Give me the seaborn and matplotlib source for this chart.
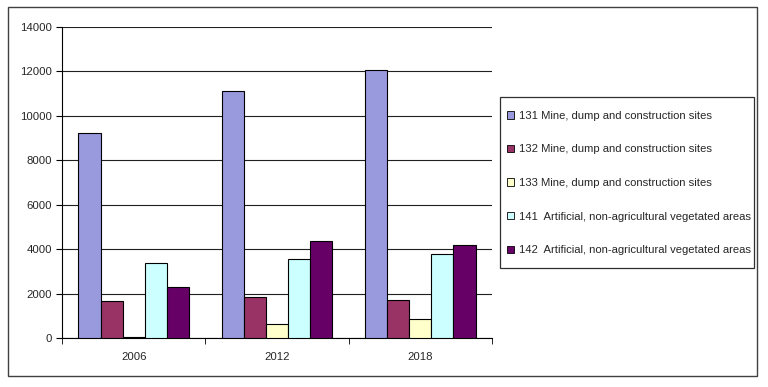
import pandas as pd
import matplotlib.pyplot as plt
import matplotlib.patches as mpatches
import seaborn as sns

# Data
years = ["2006", "2012", "2018"]
classes = [
    "131 Mine, dump and construction sites",
    "132 Mine, dump and construction sites",
    "133 Mine, dump and construction sites",
    "141  Artificial, non-agricultural vegetated areas",
    "142  Artificial, non-agricultural vegetated areas",
]
v131 = [9250, 11120, 12070]
v132 = [1670, 1840, 1710]
v133 = [30, 630, 860]
v141 = [3380, 3560, 3770]
v142 = [2300, 4360, 4190]
colors = ["#9999DD", "#993366", "#FFFFCC", "#CCFFFF", "#660066"]

rows = []
for cls, vals in zip(classes, [v131, v132, v133, v141, v142]):
    for yr, v in zip(years, vals):
        rows.append({"year": yr, "class": cls, "area": v})
df = pd.DataFrame(rows)

sns.set_style("white")
plt.rcParams["font.family"] = ["Liberation Sans", "DejaVu Sans"]

W, H = 768, 387
fig = plt.figure(figsize=(W / 100, H / 100), dpi=100)
ax = fig.add_axes([62 / W, 49 / H, 430 / W, 311 / H])

sns.barplot(data=df, x="year", y="area", hue="class", palette=colors,
            width=0.77, gap=0, edgecolor="black", linewidth=0.8,
            saturation=1, ax=ax, zorder=3)

ax.set_ylim(0, 14000)
ax.set_xlim(-0.5, 2.5)
ax.set_yticks(range(0, 14001, 2000))
ax.yaxis.grid(True, color="#202020", linewidth=0.8, zorder=0)
ax.set_axisbelow(True)
ax.set_xlabel("")
ax.set_ylabel("")

# x ticks sit on category boundaries
ax.set_xticks([0, 1, 2])
ax.set_xticklabels(years)
ax.tick_params(axis="x", length=0, labelsize=8.2, pad=10)
ax.set_xticks([-0.5, 0.5, 1.5, 2.5], minor=True)
ax.tick_params(axis="x", which="minor", length=4, color="black", direction="out", bottom=True)
ax.tick_params(axis="y", length=4, color="black", direction="out", left=True, labelsize=8.2, pad=3)

for s in ["top", "right"]:
    ax.spines[s].set_visible(False)
for s in ["left", "bottom"]:
    ax.spines[s].set_color("black")
    ax.spines[s].set_linewidth(0.8)

ax.legend_.remove()
handles = [mpatches.Patch(facecolor=c, edgecolor="black", linewidth=0.6) for c in colors]
fig.legend(handles, classes, loc="center left",
           bbox_to_anchor=(507 / W, 1 - 183 / H), borderaxespad=0, borderpad=0,
           fontsize=8.1, frameon=False,
           handlelength=0.65, handleheight=0.65, handletextpad=0.45,
           labelspacing=2.1)

# legend frame
fig.patches.append(mpatches.Rectangle((500 / W, 1 - 268 / H), 254 / W, 171 / H,
                                      transform=fig.transFigure, fill=False,
                                      edgecolor="#303030", linewidth=0.9))
# outer chart border
fig.patches.append(mpatches.Rectangle((8 / W, 1 - 376 / H), 749 / W, 369 / H,
                                      transform=fig.transFigure, fill=False,
                                      edgecolor="#404040", linewidth=1))

fig.savefig("out.png", dpi=100)
